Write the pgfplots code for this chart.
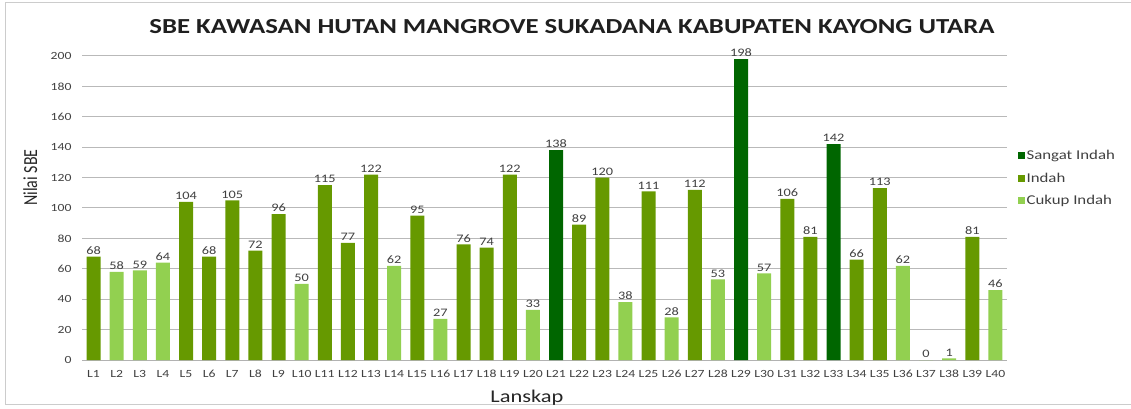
\documentclass[border=0pt]{standalone}
\usepackage{pgfplots}
\pgfplotsset{compat=1.18}
\usepackage{fontspec}
\setmainfont{Carlito}
\definecolor{sangat}{RGB}{0,102,0}
\definecolor{indah}{RGB}{102,153,0}
\definecolor{cukup}{RGB}{146,208,80}
\definecolor{txt}{RGB}{64,64,64}
\newcommand\sx[1]{\scalebox{1.25}[1]{#1}}
\begin{document}
\begin{tikzpicture}
\path[use as bounding box] (0,0) rectangle (1131bp,409bp);
\draw[gray!40, line width=1bp] (1131bp,4bp) -- (5bp,4bp) -- (5bp,406bp) -- (1131bp,406bp);
\node[font=\fontsize{21.5}{25}\selectfont\bfseries, text=black!88] at (572bp,382bp) {\sx{SBE KAWASAN HUTAN MANGROVE SUKADANA KABUPATEN KAYONG UTARA}};
\begin{axis}[
  at={(82bp,49bp)}, anchor=south west, scale only axis,
  width=925bp, height=304bp,
  xmin=0.5, xmax=40.5, ymin=0, ymax=200,
  clip=false,
  ybar, bar width=14bp, bar shift=0pt,
  /pgf/number format/assume math mode=true,
  xtick={1,...,40}, xticklabel={\sx{L\pgfmathprintnumber{\tick}}},
  ytick={0,20,...,200}, yticklabel={\sx{\pgfmathprintnumber{\tick}}},
  ymajorgrids, grid style={gray!55, line width=1bp},
  axis lines*=left,
  y axis line style={draw=none},
  x axis line style={gray!60, line width=1bp, -},
  major tick length=0pt,
  tick label style={font=\fontsize{11}{13}\selectfont, text=txt},
  xticklabel style={yshift=-6bp, text height=8bp, text depth=0bp},
  yticklabel style={xshift=-7bp},
  ylabel={\scalebox{1}[1.25]{Nilai SBE}},
  ylabel style={at={(axis description cs:-0.056,0.60)}, anchor=center, font=\fontsize{16}{18}\selectfont, text=black!85},
  xlabel={\sx{Lanskap}},
  xlabel style={at={(axis description cs:0.481,-0.125)}, anchor=center, font=\fontsize{18}{20}\selectfont, text=black!85},
  nodes near coords={\sx{\pgfmathprintnumber{\pgfplotspointmeta}}},
  nodes near coords style={font=\fontsize{11.5}{13}\selectfont, text=txt, anchor=south, inner sep=2bp},
  legend style={at={(axis description cs:1.008,0.705)}, anchor=north west, draw=none, fill=none,
    font=\fontsize{13.5}{16}\selectfont, text=txt, row sep=8bp},
  legend cell align=left,
]
\addplot[fill=sangat, draw=none, legend image code/.code={\fill[sangat] (0bp,-3.5bp) rectangle (7bp,3.5bp);}]
  coordinates {(21,138) (29,198) (33,142)};
\addplot[fill=indah, draw=none, legend image code/.code={\fill[indah] (0bp,-3.5bp) rectangle (7bp,3.5bp);}]
  coordinates {(1,68) (5,104) (6,68) (7,105) (8,72) (9,96) (11,115) (12,77) (13,122) (15,95) (17,76) (18,74) (19,122) (22,89) (23,120) (25,111) (27,112) (31,106) (32,81) (34,66) (35,113) (39,81)};
\addplot[fill=cukup, draw=none, legend image code/.code={\fill[cukup] (0bp,-3.5bp) rectangle (7bp,3.5bp);}]
  coordinates {(2,58) (3,59) (4,64) (10,50) (14,62) (16,27) (20,33) (24,38) (26,28) (28,53) (30,57) (36,62) (37,0) (38,1) (40,46)};
\legend{\sx{Sangat Indah}, \sx{Indah}, \sx{Cukup Indah}}
\end{axis}
\end{tikzpicture}
\end{document}
